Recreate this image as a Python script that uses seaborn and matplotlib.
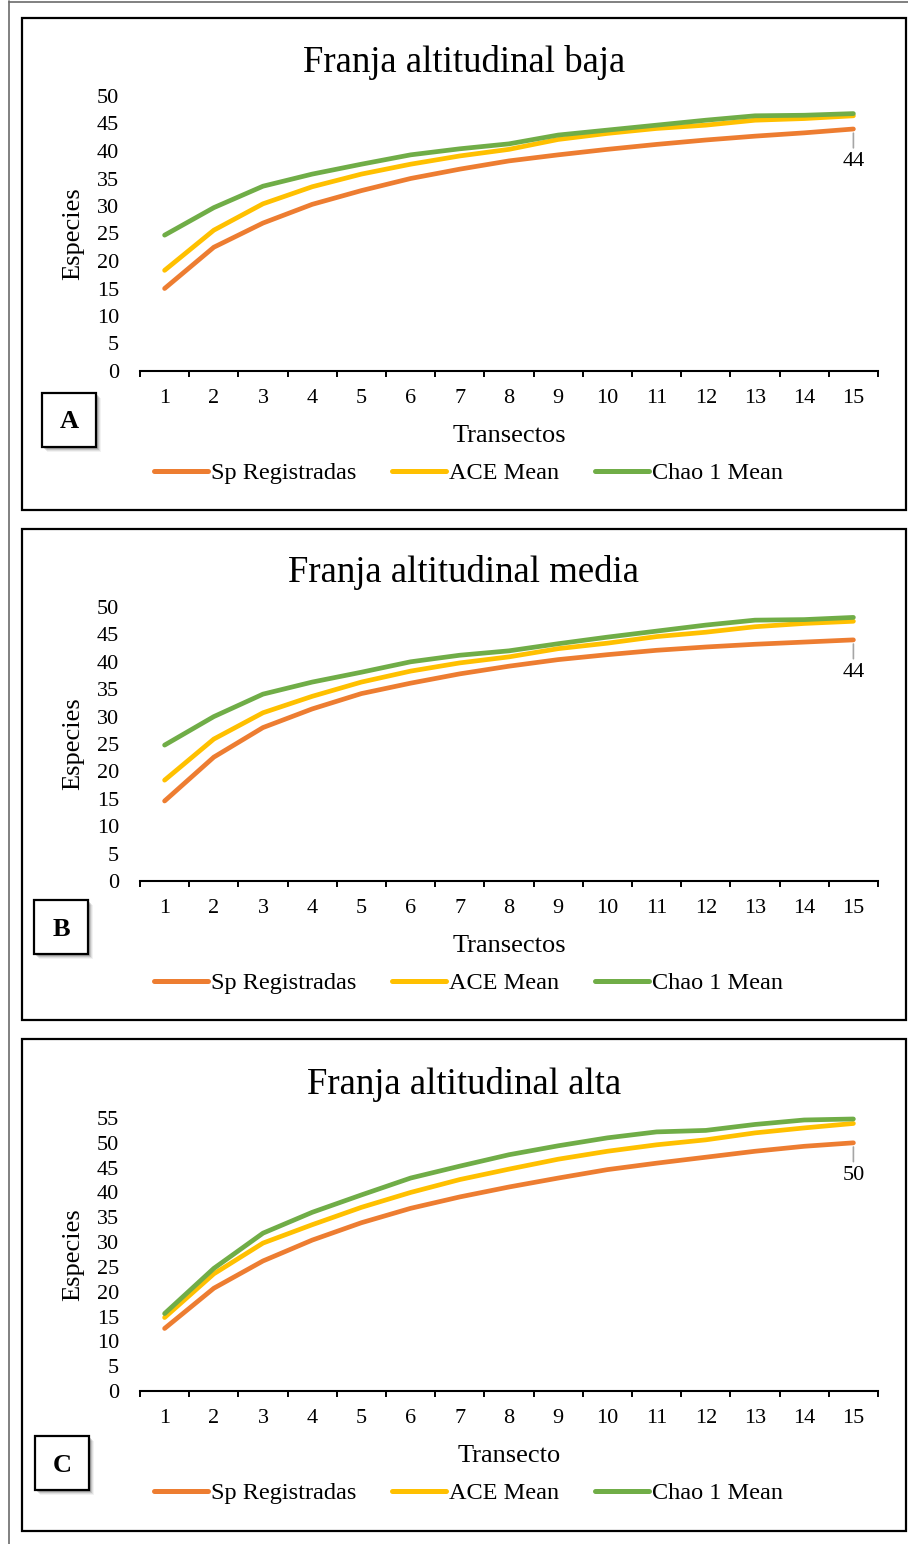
import numpy as np
import pandas as pd
import seaborn as sns
import matplotlib.pyplot as plt
from matplotlib.patches import Rectangle

transectos = list(range(1, 16))
series = ["Sp Registradas", "ACE Mean", "Chao 1 Mean"]
colores = ["#ED7D31", "#FFC000", "#70AD47"]

# franja baja
sp_a = [15, 22.5, 26.9, 30.3, 32.8, 35.0, 36.7, 38.2, 39.3, 40.3, 41.2, 42.0, 42.7, 43.3, 44]
ace_a = [18.3, 25.6, 30.4, 33.5, 35.8, 37.6, 39.1, 40.3, 42.1, 43.2, 44.1, 44.7, 45.6, 45.9, 46.4]
chao_a = [24.7, 29.7, 33.6, 35.8, 37.6, 39.3, 40.4, 41.3, 42.9, 43.8, 44.7, 45.6, 46.4, 46.5, 46.8]

# franja media
sp_b = [14.6, 22.6, 28.0, 31.4, 34.2, 36.1, 37.8, 39.2, 40.4, 41.3, 42.1, 42.7, 43.2, 43.6, 44]
ace_b = [18.4, 25.9, 30.7, 33.7, 36.3, 38.3, 39.8, 40.9, 42.4, 43.4, 44.6, 45.4, 46.4, 47.0, 47.4]
chao_b = [24.8, 30.0, 34.1, 36.3, 38.1, 40.0, 41.2, 42.0, 43.3, 44.5, 45.6, 46.7, 47.6, 47.7, 48.1]

# franja alta
sp_c = [12.6, 20.7, 26.2, 30.4, 33.9, 36.8, 39.1, 41.1, 42.9, 44.6, 45.9, 47.1, 48.3, 49.3, 50]
ace_c = [14.8, 23.6, 29.8, 33.5, 37.0, 40.0, 42.6, 44.7, 46.7, 48.3, 49.6, 50.6, 52.0, 53.0, 53.9]
chao_c = [15.6, 24.7, 31.8, 36.0, 39.5, 42.9, 45.3, 47.6, 49.4, 51.0, 52.2, 52.5, 53.7, 54.6, 54.8]

sns.set_style("white")
plt.rcParams["font.family"] = ["Liberation Serif", "DejaVu Serif"]
plt.rcParams["text.color"] = "black"
plt.rcParams["xtick.color"] = "black"
plt.rcParams["ytick.color"] = "black"
plt.rcParams["axes.labelcolor"] = "black"

W, H = 908, 1544
fig = plt.figure(figsize=(W / 100, H / 100), dpi=100)

# background axes in pixel coords for frames, titles, labels
bg = fig.add_axes([0, 0, 1, 1])
bg.set_xlim(0, W)
bg.set_ylim(H, 0)
bg.axis("off")

# outer frame
bg.plot([9, 9], [1, H], color="#6b6b6b", lw=1.2)
bg.plot([9, W], [1.5, 1.5], color="#6b6b6b", lw=1.2)


def letter_box(x, y, letra):
    for k, a in zip([6, 5, 4, 3, 2], [0.05, 0.08, 0.12, 0.16, 0.2]):
        bg.add_patch(Rectangle((x + k - 1, y + k - 1), 54, 54, facecolor="black",
                               edgecolor="none", alpha=a))
    bg.add_patch(Rectangle((x, y), 54, 54, facecolor="white", edgecolor="black", lw=1.6))
    bg.text(x + 27, y + 29, letra, ha="center", va="center", fontsize=19,
            fontweight="bold")


def panel(top, bottom, box_top, box_bot, titulo, xlab, letra, lx, ly,
          sp, ace, chao, ymax):
    bg.add_patch(Rectangle((22, box_top), 884, box_bot - box_top, facecolor="white",
                           edgecolor="black", lw=1.6))
    bg.text(464, top - 34, titulo, ha="center", va="center", fontsize=26.5)
    bg.text(73, (top + bottom) / 2, "Especies", ha="center", va="center",
            rotation=90, fontsize=19)
    bg.text(509, bottom + 65, xlab, ha="center", va="center", fontsize=19)
    letter_box(lx, ly, letra)

    ax = fig.add_axes([140 / W, 1 - bottom / H, 738 / W, (bottom - top) / H])
    ax.patch.set_alpha(0)
    df = pd.DataFrame({
        "pos": list(range(15)) * 3,
        "valor": sp + ace + chao,
        "serie": [s for s in series for _ in range(15)],
    })
    sns.lineplot(data=df, x="pos", y="valor", hue="serie", hue_order=series,
                 palette=colores, linewidth=3.4, solid_capstyle="round",
                 solid_joinstyle="round", ax=ax)
    for ln in ax.lines:
        ln.set_clip_on(False)

    ax.set_xlim(-0.5, 14.5)
    ax.set_ylim(0, ymax)
    ax.set_yticks(range(0, ymax + 1, 5))
    ax.set_xticks(range(15))
    ax.set_xticklabels(transectos)
    ax.set_xticks(np.arange(-0.5, 15, 1), minor=True)
    ax.tick_params(axis="x", which="major", length=0, pad=13, labelsize=16)
    ax.tick_params(axis="x", which="minor", length=4.5, width=1.4, color="black",
                   direction="out", bottom=True)
    ax.tick_params(axis="y", length=0, pad=15, labelsize=16)
    for s in ["top", "right", "left"]:
        ax.spines[s].set_visible(False)
    ax.spines["bottom"].set_color("black")
    ax.spines["bottom"].set_linewidth(1.5)
    ax.set_xlabel("")
    ax.set_ylabel("")

    ax.annotate(f"{sp[-1]:g}", xy=(14, sp[-1]), xytext=(0, -33),
                textcoords="offset pixels", ha="center", va="center", fontsize=16,
                arrowprops=dict(arrowstyle="-", color="#A6A6A6", lw=1.2,
                                shrinkA=1, shrinkB=3))

    handles, labels = ax.get_legend_handles_labels()
    ax.get_legend().remove()
    leg = fig.legend(handles, labels, loc="center",
                     bbox_to_anchor=(468.5 / W, 1 - (bottom + 102) / H), ncol=3,
                     frameon=False, fontsize=17.5, handlelength=2.2,
                     handletextpad=0.12, columnspacing=1.5)
    for h in leg.get_lines():
        h.set_linewidth(3.6)
        h.set_solid_capstyle("round")
    return ax


panel(96, 371, 18, 510, "Franja altitudinal baja", "Transectos", "A", 42, 393,
      sp_a, ace_a, chao_a, 50)
panel(607, 881, 529, 1020, "Franja altitudinal media", "Transectos", "B", 34, 900,
      sp_b, ace_b, chao_b, 50)
panel(1118, 1391, 1039, 1531, "Franja altitudinal alta", "Transecto", "C", 35, 1436,
      sp_c, ace_c, chao_c, 55)

fig.savefig("out.png", dpi=100)
